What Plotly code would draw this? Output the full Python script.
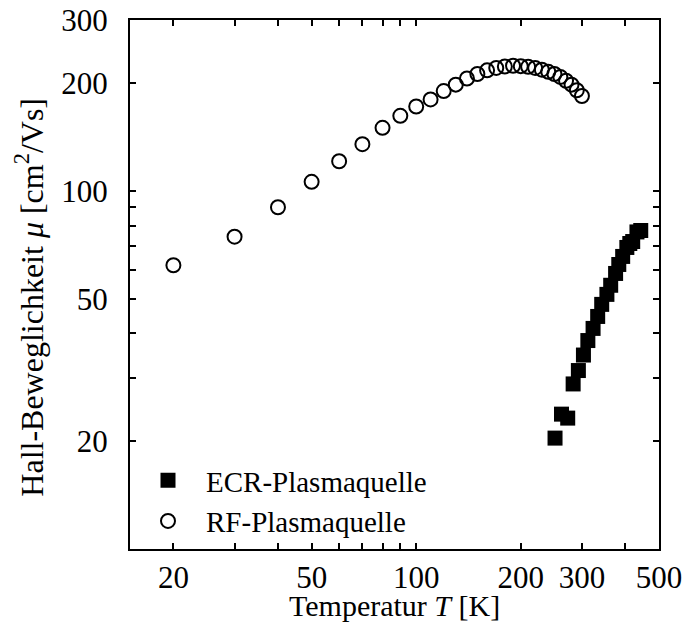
import plotly.graph_objects as go

# RF-Plasmaquelle (open circles)
rf_T = [20, 30, 40, 50, 60, 70, 80, 90, 100, 110, 120, 130, 140, 150, 160, 170, 180, 190,
        200, 210, 220, 230, 240, 250, 260, 270, 280, 290, 300]
rf_mu = [62, 74.5, 90, 106, 121, 135, 150, 162, 172, 180, 190, 198, 206, 212, 217, 220.5, 222.5, 223.5,
         223, 222, 220.5, 218, 215, 212, 208, 203, 198, 191, 184]

# ECR-Plasmaquelle (filled squares)
ecr_T = [251, 262, 273, 283, 293, 303, 312, 323, 333, 342, 354, 363, 375, 383, 393, 404, 412, 420, 432, 443]
ecr_mu = [20.4, 23.8, 23.2, 28.9, 31.5, 34.8, 38.2, 41.3, 44.6, 48.2, 51.4, 54.5, 58.8, 62.3, 65.6, 69.5, 71.3, 72.2, 76.8, 77.5]

x_major = [20, 50, 100, 200, 300, 500]
x_minor = [30, 40, 60, 70, 80, 90, 400]
y_major = [20, 50, 100, 200, 300]
y_minor = [30, 40, 60, 70, 80, 90]

FONT = "Liberation Serif"
FS_TICK = 31
FS_TITLE = 30
FS_YTITLE = 32
FS_LEG = 29

fig = go.Figure()
fig.add_trace(go.Scatter(
    x=ecr_T, y=ecr_mu, mode="markers", name="ECR-Plasmaquelle",
    marker=dict(symbol="square", size=15, color="black", line=dict(width=0)),
))
fig.add_trace(go.Scatter(
    x=rf_T, y=rf_mu, mode="markers", name="RF-Plasmaquelle",
    marker=dict(symbol="circle-open", size=14, color="black", line=dict(width=2, color="black")),
))

axis_common = dict(
    type="log", showgrid=False, zeroline=False,
    showline=True, linecolor="black", linewidth=2, mirror="ticks",
    ticks="inside", ticklen=6, tickwidth=1.5, tickcolor="black",
    tickfont=dict(family=FONT, size=FS_TICK, color="black"),
)

fig.update_xaxes(
    **axis_common,
    range=[1.17609, 2.69897],
    tickmode="array", tickvals=x_major, ticktext=[str(v) for v in x_major],
    minor=dict(tickmode="array", tickvals=x_minor, ticks="inside", ticklen=6, tickwidth=1.5, tickcolor="black"),
    ticklabelstandoff=0,
)
fig.update_yaxes(
    **axis_common,
    range=[1.0, 2.47712],
    tickmode="array", tickvals=y_major, ticktext=[str(v) for v in y_major],
    minor=dict(tickmode="array", tickvals=y_minor, ticks="inside", ticklen=6, tickwidth=1.5, tickcolor="black"),
    ticklabelstandoff=14,
)

fig.add_annotation(
    text="Temperatur <i>T</i> [K]", xref="paper", yref="paper", x=0.5, y=-0.106,
    xanchor="center", yanchor="middle", showarrow=False,
    font=dict(family=FONT, size=FS_TITLE, color="black"),
)
fig.add_annotation(
    text="Hall-Beweglichkeit <i>μ</i> [cm<sup>2</sup>/Vs]", xref="paper", yref="paper",
    x=-0.19, y=0.476, xanchor="center", yanchor="middle", textangle=-90, showarrow=False,
    font=dict(family=FONT, size=FS_YTITLE, color="black"),
)

fig.update_layout(
    width=683, height=630,
    margin=dict(l=130, r=24, t=20, b=81, autoexpand=False),
    paper_bgcolor="white", plot_bgcolor="white",
    font=dict(family=FONT, size=FS_TICK, color="black"),
    showlegend=True,
    legend=dict(
        x=0.0, y=0.178, xanchor="left", yanchor="top",
        bgcolor="rgba(0,0,0,0)", borderwidth=0, itemwidth=66,
        font=dict(family=FONT, size=FS_LEG, color="black"),
        tracegroupgap=0,
    ),
)

fig.write_html("out.html")
